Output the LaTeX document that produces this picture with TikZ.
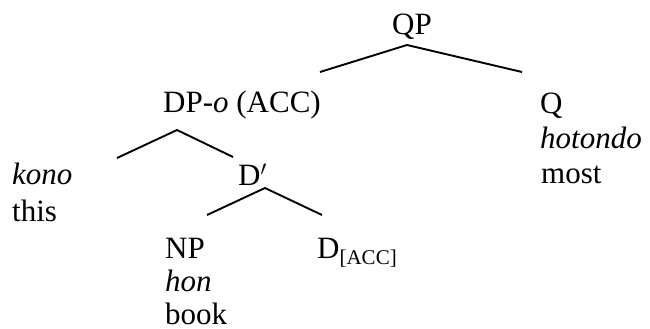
\documentclass[tikz,border=0pt]{standalone}
\usepackage{fontspec}
\setmainfont{Liberation Serif}
\usetikzlibrary{positioning}

\begin{document}
\begin{tikzpicture}[
        x=1pt, y=-1pt,
        % Style for the tree labels
        lbl/.style={anchor=base west, inner sep=0pt, font=\fontsize{31}{34}\selectfont},
        % Style for the branches
        branch/.style={line width=1.9pt}
    ]
    \useasboundingbox (0,0) rectangle (650,329);

    % --- TOP ---
    \node (qp) [lbl] at (392,35) {QP};

    % --- LEVEL 1 ---
    \node (dp) [lbl] at (163,112) {DP-\textit{o} (ACC)};
    \node (q) [lbl] at (540,113) {Q};
    \node (hotondo) [lbl] at (540,148) {\textit{hotondo}};
    \node (most) [lbl] at (541,183) {most};

    % --- LEVEL 2 ---
    \node (kono) [lbl] at (12,184) {\textit{kono}};
    \node (this) [lbl] at (12,221) {this};
    \node (dbar) [lbl] at (238,185) {D$'$};

    % --- LEVEL 3 ---
    \node (np) [lbl] at (165,258) {NP};
    \node (hon) [lbl] at (165,291) {\textit{hon}};
    \node (book) [lbl] at (165,324) {book};
    \node (dacc) [lbl] at (317,258) {D\raisebox{-0.22em}{\fontsize{21}{23}\selectfont[ACC]}};

    % branch ends
    \coordinate (qp-b) at (407,45);
    \coordinate (dp-t) at (320,72);
    \coordinate (q-t) at (522,72);
    \coordinate (dp-b) at (177,130);
    \coordinate (kono-t) at (117,158);
    \coordinate (dbar-t) at (233,157);
    \coordinate (dbar-b) at (265,188);
    \coordinate (np-t) at (207,215);
    \coordinate (dacc-t) at (322,215);

    \draw[branch] (dp-t) -- (qp-b) -- (q-t);
    \draw[branch] (kono-t) -- (dp-b) -- (dbar-t);
    \draw[branch] (np-t) -- (dbar-b) -- (dacc-t);

\end{tikzpicture}
\end{document}
